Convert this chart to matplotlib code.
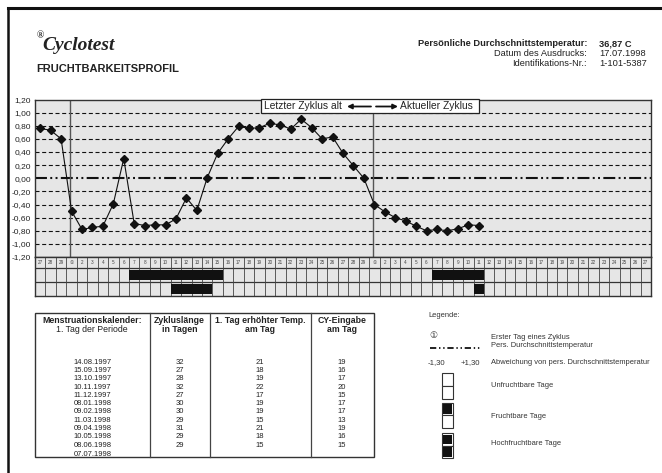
import matplotlib
matplotlib.use('Agg')
import matplotlib.pyplot as plt
from matplotlib.patches import Rectangle
from matplotlib.lines import Line2D

W, H = 662, 473
plt.rcParams['font.family'] = ['Liberation Sans', 'DejaVu Sans', 'Noto Sans CJK JP']
plt.rcParams['lines.scale_dashes'] = False

# ---------------- data ----------------
prev_cycle_days = [27, 28, 29]
cycle1_length = 29
cycle2_days_shown = 27
temp_prev = [0.76, 0.73, 0.60]
temp_cycle1 = [-0.50, -0.78, -0.75, -0.73, -0.39, 0.30, -0.69, -0.72, -0.71, -0.71,
               -0.62, -0.30, -0.49, 0.01, 0.38, 0.60, 0.79, 0.76, 0.77, 0.84,
               0.81, 0.75, 0.90, 0.77, 0.60, 0.63, 0.38, 0.19, 0.00]
temp_cycle2 = [-0.40, -0.51, -0.60, -0.65, -0.73, -0.80, -0.78, -0.80, -0.77, -0.71, -0.72]
fertile_cycle1 = (7, 15)
high_fertile_cycle1 = (11, 14)
fertile_cycle2 = (7, 11)
high_fertile_cycle2 = (11, 11)
y_ticks = [1.2, 1.0, 0.8, 0.6, 0.4, 0.2, 0.0, -0.2, -0.4, -0.6, -0.8, -1.0, -1.2]

avg_temp = '36,87 C'
print_date = '17.07.1998'
ident_nr = '1-101-5387'

table_dates = ['14.08.1997', '15.09.1997', '13.10.1997', '10.11.1997', '11.12.1997',
               '08.01.1998', '09.02.1998', '11.03.1998', '09.04.1998', '10.05.1998',
               '08.06.1998', '07.07.1998']
table_cycle_len = [32, 27, 28, 32, 27, 30, 30, 29, 31, 29, 29]
table_temp_day = [21, 18, 19, 22, 17, 19, 19, 15, 21, 18, 15]
table_cy_day = [19, 16, 17, 20, 15, 17, 17, 13, 19, 16, 15]

# ---------------- derived ----------------
def day_label(d):
    return '\u2460' if d == 1 else str(d)

day_labels = ([day_label(d) for d in prev_cycle_days]
              + [day_label(d) for d in range(1, cycle1_length + 1)]
              + [day_label(d) for d in range(1, cycle2_days_shown + 1)])
n_cols = len(day_labels)
c1_start = len(prev_cycle_days)
c2_start = c1_start + cycle1_length
temps = temp_prev + temp_cycle1 + temp_cycle2
x_pos = list(range(len(temps)))


def rect(x0, y0, x1, y1):
    return [x0 / W, 1 - y1 / H, (x1 - x0) / W, (y1 - y0) / H]


fig = plt.figure(figsize=(W / 100, H / 100), dpi=100)
fig.patch.set_facecolor('white')

GRAY_BG = '#e6e6e6'
TXT = '#222222'

# ---------------- main chart ----------------
ax = fig.add_axes(rect(35, 99.5, 651, 257))
ax.set_facecolor(GRAY_BG)
ax.set_xlim(-0.5, n_cols - 0.5)
ax.set_ylim(-1.2, 1.2)
for s in ax.spines.values():
    s.set_color('#333333')
    s.set_linewidth(1.0)
for yv in y_ticks:
    if abs(yv) < 1e-9 or abs(abs(yv) - 1.2) < 1e-9:
        continue
    ax.axhline(yv, color='#111111', lw=0.8, dashes=(2.9, 1.9), zorder=1)
ax.axhline(0.0, color='#111111', lw=1.5, dashes=(8.6, 2.4, 1.4, 2.4, 1.4, 2.4), zorder=1)
for cs in (c1_start, c2_start):
    ax.axvline(cs - 0.15, color='#555555', lw=1.0, zorder=2)
ax.plot(x_pos, temps, color='#111111', lw=0.8, marker='D', ms=3.7, zorder=3)
ax.set_xticks([])
ax.set_yticks(y_ticks)
ax.set_yticklabels([('%.2f' % v).replace('.', ',').replace('-0,00', '0,00') for v in y_ticks],
                   fontsize=6, color=TXT)
ax.tick_params(axis='y', length=0, pad=3)

# ---------------- day rows ----------------
ax2 = fig.add_axes(rect(35, 257, 651, 296))
ax2.set_xlim(-0.5, n_cols - 0.5)
ax2.set_ylim(39, 0)
ax2.set_facecolor(GRAY_BG)
ax2.set_xticks([])
ax2.set_yticks([])
for s in ax2.spines.values():
    s.set_color('#333333')
    s.set_linewidth(1.0)
row_bounds = [0, 11, 25, 39]
for rb in row_bounds[1:-1]:
    ax2.axhline(rb, color='#333333', lw=0.9)
for i in range(1, n_cols):
    ax2.axvline(i - 0.5, color='#444444', lw=0.6)
for i, lab in enumerate(day_labels):
    ax2.text(i, 5.5, lab, ha='center', va='center', fontsize=3.3, color='#444444')


def bar(ax_, start_idx, end_idx, row):
    top, bot = row_bounds[row], row_bounds[row + 1]
    ax_.broken_barh([(start_idx - 0.5, end_idx - start_idx + 1)], (top + 2.3, bot - top - 4.6),
                    facecolor='#111111', edgecolor='none', zorder=3)


bar(ax2, c1_start + fertile_cycle1[0] - 1, c1_start + fertile_cycle1[1] - 1, 1)
bar(ax2, c1_start + high_fertile_cycle1[0] - 1, c1_start + high_fertile_cycle1[1] - 1, 2)
bar(ax2, c2_start + fertile_cycle2[0] - 1, c2_start + fertile_cycle2[1] - 1, 1)
bar(ax2, c2_start + high_fertile_cycle2[0] - 1, c2_start + high_fertile_cycle2[1] - 1, 2)

# ---------------- overlay (page layout) ----------------
ov = fig.add_axes([0, 0, 1, 1], zorder=10)
ov.set_xlim(0, W)
ov.set_ylim(H, 0)
ov.axis('off')

# frame
ov.add_line(Line2D([8, 8], [8, H], color='#111111', lw=1.8))
ov.add_line(Line2D([8, W], [8.5, 8.5], color='#111111', lw=2.2))

# title
ov.text(36.5, 38.5, '\u00ae', fontsize=7, fontfamily='Liberation Serif', fontweight='bold',
        ha='left', va='baseline', color=TXT)
ov.text(42.5, 50, 'Cyclotest', fontsize=14, fontfamily='Liberation Serif', fontweight='bold',
        fontstyle='italic', ha='left', va='baseline', color=TXT)
ov.text(36.5, 68.5, 'FRUCHTBARKEITSPROFIL', fontsize=8, fontweight='bold', ha='left',
        va='center', color=TXT)

# header right
ov.text(587, 43.5, 'Persönliche Durchschnittstemperatur:', fontsize=6.7, fontweight='bold',
        ha='right', va='center', color=TXT)
ov.text(599, 43.5, avg_temp, fontsize=6.7, fontweight='bold', ha='left', va='center', color=TXT)
ov.text(587, 53.5, 'Datum des Ausdrucks:', fontsize=6.7, ha='right', va='center', color=TXT)
ov.text(599, 53.5, print_date, fontsize=6.7, ha='left', va='center', color=TXT)
ov.text(587, 63.3, 'Identifikations-Nr.:', fontsize=6.7, ha='right', va='center', color=TXT)
ov.text(599, 63.3, ident_nr, fontsize=6.7, ha='left', va='center', color=TXT)

# chart direction label box
ov.add_patch(Rectangle((261, 99), 218, 14, facecolor='white', edgecolor='#222222', lw=0.9))
ov.text(264.5, 106.3, 'Letzter Zyklus alt', fontsize=7.4, ha='left', va='center', color=TXT)
ov.text(400, 106.3, 'Aktueller Zyklus', fontsize=7.4, ha='left', va='center', color=TXT)
ov.annotate('', xy=(347, 106.5), xytext=(371, 106.5),
            arrowprops=dict(arrowstyle='-|>', color='#111111', lw=1.3, mutation_scale=7,
                            shrinkA=0, shrinkB=0))
ov.annotate('', xy=(398, 106.5), xytext=(376, 106.5),
            arrowprops=dict(arrowstyle='-|>', color='#111111', lw=1.3, mutation_scale=7,
                            shrinkA=0, shrinkB=0))

# ---------------- table ----------------
tx0, tx1, ty0, ty1 = 35, 373.5, 313, 457
ov.add_patch(Rectangle((tx0, ty0), tx1 - tx0, ty1 - ty0, facecolor='white',
                       edgecolor='#333333', lw=1.0))
col_div = [149.5, 209.5, 310.5]
for cx in col_div:
    ov.add_line(Line2D([cx, cx], [ty0, ty1], color='#444444', lw=0.9))
col_centers = [(tx0 + col_div[0]) / 2, (col_div[0] + col_div[1]) / 2,
               (col_div[1] + col_div[2]) / 2, (col_div[2] + tx1) / 2]
hdr1 = ['Menstruationskalender:', 'Zykluslänge', '1. Tag erhöhter Temp.', 'CY-Eingabe']
hdr2 = ['1. Tag der Periode', 'in Tagen', 'am Tag', 'am Tag']
for i in range(4):
    ov.text(col_centers[i], 320.8, hdr1[i], fontsize=6.3, ha='center', va='center',
            color=TXT, fontweight='bold' if i > 0 else 'semibold')
    ov.text(col_centers[i], 329.5, hdr2[i], fontsize=6.3, ha='center', va='center',
            color=TXT, fontweight='bold' if i > 0 else 'normal')
row_y0, row_dy = 362.3, 8.27
for r, d in enumerate(table_dates):
    yy = row_y0 + r * row_dy
    if r == len(table_dates) - 1:
        yy += 1.5
    ov.text(col_centers[0], yy, d, fontsize=5.5, ha='center', va='center', color=TXT)
for r in range(len(table_cycle_len)):
    yy = row_y0 + r * row_dy
    ov.text(col_centers[1], yy, str(table_cycle_len[r]), fontsize=5.5, ha='center',
            va='center', color=TXT)
    ov.text(col_centers[2], yy, str(table_temp_day[r]), fontsize=5.5, ha='center',
            va='center', color=TXT)
    ov.text(col_centers[3], yy, str(table_cy_day[r]), fontsize=5.5, ha='center',
            va='center', color=TXT)

# ---------------- legend ----------------
LG = '#333333'
FS_L = 5.4
ov.text(428, 315, 'Legende:', fontsize=FS_L, ha='left', va='center', color=LG)
ov.text(433.5, 335.8, '\u2460', fontsize=6.5, ha='center', va='center', color=LG)
ov.add_line(Line2D([430, 480], [348.3, 348.3], color='#111111', lw=1.3,
                   dashes=(4.5, 2.0, 1.0, 2.0, 1.0, 2.0)))
ov.text(436, 362.7, '-1,30', fontsize=5.6, ha='center', va='center', color=LG)
ov.text(470, 362.7, '+1,30', fontsize=5.6, ha='center', va='center', color=LG)
lx = 491
ov.text(lx, 337.3, 'Erster Tag eines Zyklus', fontsize=FS_L, ha='left', va='center', color=LG)
ov.text(lx, 345.7, 'Pers. Durchschnittstemperatur', fontsize=FS_L, ha='left', va='center', color=LG)
ov.text(lx, 362.7, 'Abweichung von pers. Durchschnittstemperatur', fontsize=FS_L, ha='left',
        va='center', color=LG)
ov.text(lx, 385, 'Unfruchtbare Tage', fontsize=FS_L, ha='left', va='center', color=LG)
ov.text(lx, 416, 'Fruchtbare Tage', fontsize=FS_L, ha='left', va='center', color=LG)
ov.text(lx, 443.3, 'Hochfruchtbare Tage', fontsize=FS_L, ha='left', va='center', color=LG)


def legend_icon(y0, top_black, bottom_black):
    x0, w, h = 442, 10.5, 12.8
    for k, black in enumerate((top_black, bottom_black)):
        yy = y0 + k * h
        ov.add_patch(Rectangle((x0, yy), w, h, facecolor='white', edgecolor='#333333', lw=0.8))
        if black:
            ov.add_patch(Rectangle((x0 + 0.6, yy + 1.8), w - 1.2, h - 3.6,
                                   facecolor='#111111', edgecolor='none'))


legend_icon(373.3, False, False)
legend_icon(402.5, True, False)
legend_icon(432.7, True, True)

fig.savefig('out.png', dpi=100, facecolor='white')
